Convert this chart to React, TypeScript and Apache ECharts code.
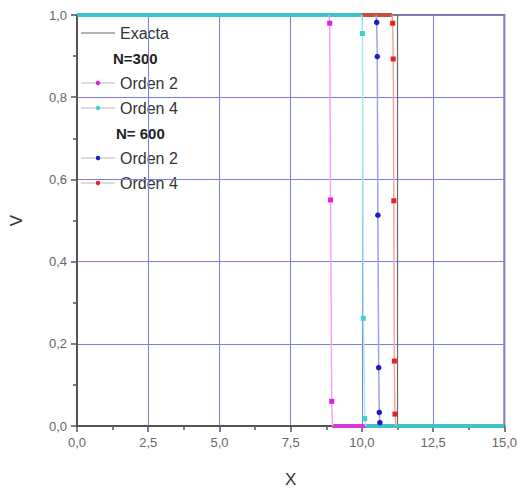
import React, { useEffect, useRef } from 'react';
import * as echarts from 'echarts';

const X_MIN = 0;
const X_MAX = 15;
const X_STEP = 2.5;
const Y_MIN = 0;
const Y_MAX = 1;
const Y_STEP = 0.2;

// Exact solution (step)
const exactX = [0, 11.25, 11.25, 15];
const exactY = [1, 1, 0, 0];

// N=300, Orden 2
const n300o2X = [8.85, 8.87, 8.9, 8.94, 8.97];
const n300o2Y = [1, 0.98, 0.55, 0.06, 0];
// N=300, Orden 4
const n300o4X = [10.0, 10.02, 10.05, 10.1, 10.13];
const n300o4Y = [1, 0.955, 0.262, 0.018, 0];
// N=600, Orden 2
const n600o2X = [10.5, 10.52, 10.54, 10.56, 10.59, 10.61, 10.63, 10.66];
const n600o2Y = [1, 0.982, 0.899, 0.513, 0.142, 0.033, 0.008, 0];
// N=600, Orden 4
const n600o4X = [11.06, 11.08, 11.1, 11.12, 11.14, 11.16, 11.19];
const n600o4Y = [1, 0.98, 0.893, 0.548, 0.158, 0.029, 0];

const legendRows = ['Exacta', 'N=300', 'Orden 2', 'Orden 4', 'N= 600', 'Orden 2', 'Orden 4'];

const FONT = 'Liberation Sans, Arial, sans-serif';

type Def = {
  name: string;
  xs: number[];
  ys: number[];
  mark: string;
  line: string;
  thick: string;
  symbol: string;
  size: number;
};

const defs: Def[] = [
  { name: 'N=300 Orden 2', xs: n300o2X, ys: n300o2Y, mark: '#e020e0', line: '#f2a6f2', thick: '#d838d8', symbol: 'rect', size: 5 },
  { name: 'N=600 Orden 2', xs: n600o2X, ys: n600o2Y, mark: '#1a1ad0', line: '#a0a0e8', thick: '#3030c0', symbol: 'circle', size: 5.5 },
  { name: 'N=600 Orden 4', xs: n600o4X, ys: n600o4Y, mark: '#e82020', line: '#f0a8a0', thick: '#c8503c', symbol: 'rect', size: 5 },
  { name: 'N=300 Orden 4', xs: n300o4X, ys: n300o4Y, mark: '#40d0c8', line: '#a6e8ec', thick: '#3cc4c8', symbol: 'rect', size: 5 },
];

const zip = (xs: number[], ys: number[]) => xs.map((x, i) => [x, ys[i]]);
const fmt = (v: number, d: number) => v.toFixed(d).replace('.', ',');

export default function App() {
  const ref = useRef<HTMLDivElement>(null);
  useEffect(() => {
    document.body.style.margin = '0';
    const chart = echarts.init(ref.current!, null, { renderer: 'svg' });

    const series: any[] = [];
    series.push({
      type: 'line',
      name: 'Exacta',
      data: zip(exactX, exactY),
      symbol: 'none',
      lineStyle: { color: '#6a6a6a', width: 1.2 },
      silent: true,
    });
    defs.forEach((d) => {
      const n = d.xs.length;
      series.push({
        type: 'line',
        data: [[X_MIN, d.ys[0]], [d.xs[0], d.ys[0]]],
        symbol: 'none',
        lineStyle: { color: d.thick, width: 4 },
        silent: true,
      });
      series.push({
        type: 'line',
        data: [[d.xs[n - 1], d.ys[n - 1]], [X_MAX, d.ys[n - 1]]],
        symbol: 'none',
        lineStyle: { color: d.thick, width: 4 },
        silent: true,
      });
    });
    defs.forEach((d) => {
      const n = d.xs.length;
      series.push({
        type: 'line',
        name: d.name,
        data: zip(d.xs, d.ys).map((p, i) => ({
          value: p,
          symbol: i === 0 || i === n - 1 ? 'none' : d.symbol,
        })),
        symbol: d.symbol,
        symbolSize: d.size,
        showAllSymbol: true,
        itemStyle: { color: d.mark },
        lineStyle: { color: d.line, width: 1.5 },
        silent: true,
      });
    });

    const rowY0 = 33;
    const rowGap = 25;
    const legendMarks: Record<number, Def | null> = {
      0: null,
      2: defs[0],
      3: defs[3],
      5: defs[1],
      6: defs[2],
    };
    const graphic: any[] = [];
    legendRows.forEach((label, i) => {
      const y = rowY0 + i * rowGap;
      const isHeader = i === 1 || i === 4;
      if (isHeader) {
        graphic.push({
          type: 'text',
          x: 113 + (i === 4 ? 3 : 0),
          y,
          style: {
            text: label,
            font: `bold 15px ${FONT}`,
            fill: '#222',
            verticalAlign: 'middle',
          },
        });
        return;
      }
      const d = legendMarks[i];
      graphic.push({
        type: 'line',
        shape: { x1: 81, y1: y, x2: 115, y2: y },
        style: { stroke: d ? '#b8b8b8' : '#666', lineWidth: 1 },
      });
      if (d) {
        graphic.push({
          type: 'circle',
          shape: { cx: 98, cy: y, r: 2.2 },
          style: { fill: d.mark },
        });
      }
      graphic.push({
        type: 'text',
        x: 120,
        y,
        style: {
          text: label,
          font: `16px ${FONT}`,
          fill: '#333',
          verticalAlign: 'middle',
        },
      });
    });

    chart.setOption({
      animation: false,
      backgroundColor: '#ffffff',
      grid: {
        left: 73,
        right: 12,
        top: 15,
        bottom: 65,
        show: true,
        borderColor: '#7a7a7a',
        borderWidth: 2,
        backgroundColor: 'transparent',
      },
      xAxis: {
        type: 'value',
        min: X_MIN,
        max: X_MAX,
        interval: X_STEP,
        name: 'X',
        nameLocation: 'middle',
        nameGap: 45,
        nameTextStyle: { fontSize: 17, color: '#333', fontFamily: FONT },
        axisLine: { show: true, lineStyle: { color: '#555', width: 2 } },
        axisTick: { show: true, length: 6, lineStyle: { color: '#555', width: 1.5 } },
        minorTick: { show: true, splitNumber: 2, length: 4, lineStyle: { color: '#555', width: 1.5 } },
        axisLabel: {
          formatter: (v: number) => fmt(v, 1),
          fontSize: 13,
          color: '#666',
          fontFamily: FONT,
          margin: 10,
          showMinLabel: true,
          showMaxLabel: true,
        },
        splitLine: { show: true, lineStyle: { color: '#7c7ce8', width: 1 } },
      },
      yAxis: {
        type: 'value',
        min: Y_MIN,
        max: Y_MAX,
        interval: Y_STEP,
        name: 'V',
        nameLocation: 'middle',
        nameGap: 52,
        nameRotate: 90,
        nameTextStyle: { fontSize: 17, color: '#333', fontFamily: FONT },
        axisLine: { show: true, lineStyle: { color: '#555', width: 2 } },
        axisTick: { show: true, length: 6, lineStyle: { color: '#555', width: 1.5 } },
        minorTick: { show: true, splitNumber: 2, length: 4, lineStyle: { color: '#555', width: 1.5 } },
        axisLabel: {
          formatter: (v: number) => fmt(v, 1),
          fontSize: 13,
          color: '#666',
          fontFamily: FONT,
          margin: 10,
        },
        splitLine: { show: true, lineStyle: { color: '#7c7ce8', width: 1 } },
      },
      series,
      graphic,
    });
    return () => chart.dispose();
  }, []);
  return <div ref={ref} style={{ width: 520, height: 493 }} />;
}
